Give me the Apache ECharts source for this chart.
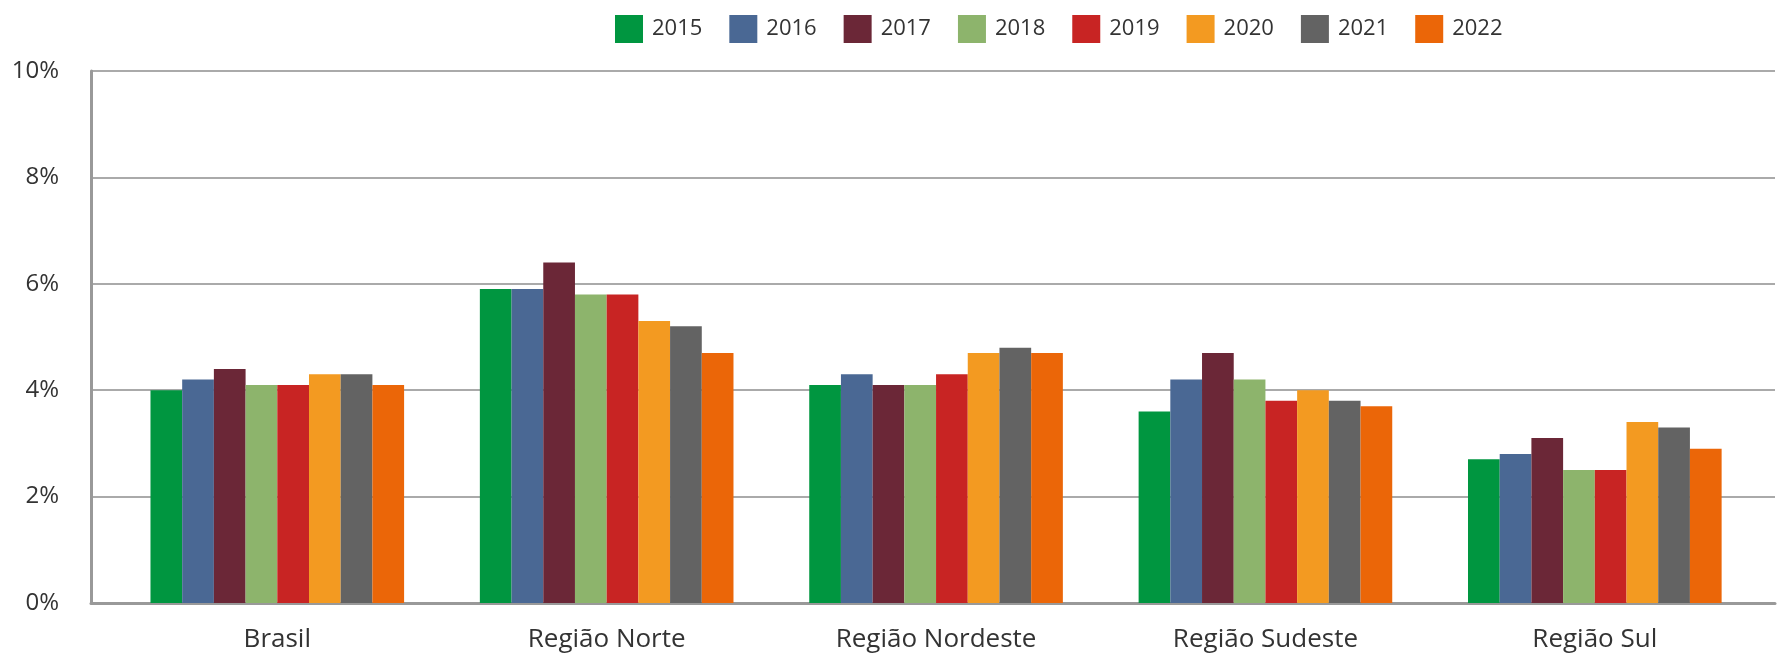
<!DOCTYPE html>
<html>
<head>
<meta charset="utf-8">
<script src="https://cdn.jsdelivr.net/npm/echarts@6/dist/echarts.min.js"></script>
<style>
html,body{margin:0;padding:0;background:#fff;}
#c{width:1777px;height:656px;}
</style>
</head>
<body>
<div id="c"></div>
<script>
const categories = ['Brasil', 'Região Norte', 'Região Nordeste', 'Região Sudeste', 'Região Sul'];
const years = ['2015', '2016', '2017', '2018', '2019', '2020', '2021', '2022'];
const v2015 = [4.0, 5.9, 4.1, 3.6, 2.7];
const v2016 = [4.2, 5.9, 4.3, 4.2, 2.8];
const v2017 = [4.4, 6.4, 4.1, 4.7, 3.1];
const v2018 = [4.1, 5.8, 4.1, 4.2, 2.5];
const v2019 = [4.1, 5.8, 4.3, 3.8, 2.5];
const v2020 = [4.3, 5.3, 4.7, 4.0, 3.4];
const v2021 = [4.3, 5.2, 4.8, 3.8, 3.3];
const v2022 = [4.1, 4.7, 4.7, 3.7, 2.9];
const yTicks = [0, 2, 4, 6, 8, 10];
const colors = ['#009640', '#4a6894', '#6b2737', '#8db46c', '#c82423', '#f39a21', '#636363', '#eb6608'];

const seriesValues = [v2015, v2016, v2017, v2018, v2019, v2020, v2021, v2022];
const font = 'Open Sans';
const textColor = '#333';

const chart = echarts.init(document.getElementById('c'), null, {renderer: 'canvas'});
chart.setOption({
  animation: false,
  color: colors,
  textStyle: {fontFamily: font},
  legend: {
    top: 10,
    left: 610,
    itemWidth: 28,
    itemHeight: 28,
    itemGap: 27,
    icon: 'rect',
    textStyle: {fontFamily: font, fontSize: 22, color: textColor, padding: [0, 0, 0, 4]},
    data: years
  },
  grid: [
    {left: 91, right: 2, top: 71, bottom: 53},
    {left: 112.6, right: 17.5, top: 71, bottom: 53}
  ],
  xAxis: [
    {
      type: 'value', gridIndex: 0, min: 0, max: 1,
      axisLine: {show: true, onZero: false, lineStyle: {color: '#999', width: 3}},
      axisTick: {show: false}, axisLabel: {show: false}, splitLine: {show: false}
    },
    {
      type: 'category', gridIndex: 1, data: categories,
      axisLine: {show: false}, axisTick: {show: false},
      axisLabel: {fontFamily: font, fontSize: 26, color: textColor, margin: 24}
    }
  ],
  yAxis: [
    {
      type: 'value', gridIndex: 0, min: yTicks[0], max: yTicks[yTicks.length - 1], interval: 2,
      axisLine: {show: true, lineStyle: {color: '#999', width: 3}},
      axisTick: {show: false},
      axisLabel: {fontFamily: font, fontSize: 24, color: textColor, margin: 32, formatter: v => v + '%'},
      splitLine: {show: true, lineStyle: {color: '#aaa', width: 2}}
    },
    {
      type: 'value', gridIndex: 1, min: yTicks[0], max: yTicks[yTicks.length - 1], interval: 2,
      show: false, splitLine: {show: false}
    }
  ],
  series: years.map((y, i) => ({
    name: y,
    type: 'bar',
    xAxisIndex: 1,
    yAxisIndex: 1,
    data: seriesValues[i],
    barGap: '0%',
    barCategoryGap: '23%',
    itemStyle: {color: colors[i]}
  }))
});
</script>
</body>
</html>
